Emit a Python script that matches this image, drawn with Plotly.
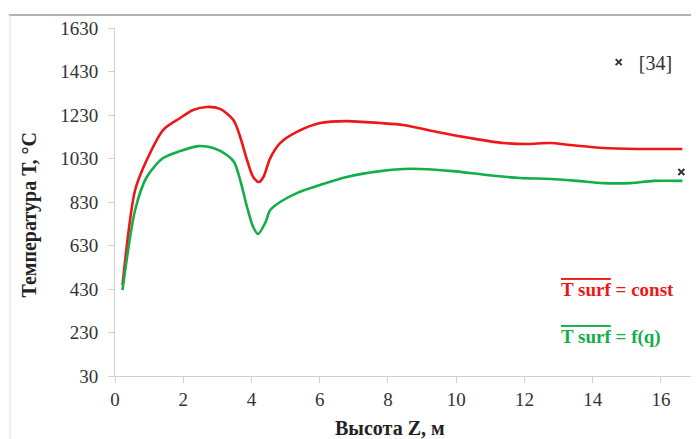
import plotly.graph_objects as go

# Data
z_const = [0.22, 0.59, 0.93, 1.41, 1.91, 2.29, 2.69, 3.08, 3.47, 3.67, 3.87, 4.05, 4.22, 4.35, 4.55,
           4.84, 5.33, 6.01, 6.79, 7.77, 8.45, 9.44, 10.41, 11.38, 12.08, 12.76, 13.34, 14.31, 15.3, 16.63]
t_const = [448, 885, 1023, 1161, 1216, 1253, 1267, 1258, 1207, 1129, 1023, 945, 922, 945, 1032,
           1101, 1152, 1193, 1202, 1193, 1184, 1152, 1124, 1101, 1097, 1101, 1092, 1078, 1074, 1074]

z_fq = [0.22, 0.59, 0.93, 1.41, 1.91, 2.44, 2.88, 3.28, 3.49, 3.67, 3.87, 4.05, 4.19, 4.4, 4.55,
        4.84, 5.33, 6.01, 6.79, 7.77, 8.45, 8.94, 9.91, 10.9, 11.88, 12.76, 13.55, 14.31, 15.1, 15.78, 16.63]
t_fq = [425, 793, 945, 1032, 1064, 1087, 1078, 1046, 1014, 931, 807, 715, 683, 733, 793,
        830, 871, 908, 945, 972, 982, 982, 972, 954, 940, 936, 927, 917, 917, 927, 927]

z_ref = [16.6]
t_ref = [968]

x_ticks = [0, 2, 4, 6, 8, 10, 12, 14, 16]
y_ticks = [30, 230, 430, 630, 830, 1030, 1230, 1430, 1630]

SERIF = "Liberation Serif, serif"
RED = "#ee1616"
GREEN = "#14ad4a"

fig = go.Figure()
fig.add_trace(go.Scatter(x=z_const, y=t_const, mode="lines",
                         line=dict(color=RED, width=2.6, shape="spline", smoothing=0.8),
                         showlegend=False))
fig.add_trace(go.Scatter(x=z_fq, y=t_fq, mode="lines",
                         line=dict(color=GREEN, width=2.6, shape="spline", smoothing=0.8),
                         showlegend=False))
fig.add_trace(go.Scatter(x=z_ref, y=t_ref, mode="markers", name="[34]",
                         marker=dict(symbol="x-thin", size=6, color="#222",
                                     line=dict(width=2, color="#333"))))

fig.update_layout(
    width=691, height=431,
    margin=dict(l=107, r=4, t=20, b=63, autoexpand=False),
    paper_bgcolor="white", plot_bgcolor="white",
    font=dict(family=SERIF, color="#333", size=15),
    showlegend=True,
    legend=dict(x=0.834, y=0.902, xanchor="left", yanchor="middle",
                font=dict(family=SERIF, size=20, color="#333"),
                bgcolor="rgba(0,0,0,0)", itemwidth=30),
    xaxis=dict(range=[0, 17], tickvals=x_ticks, showgrid=False, zeroline=False,
               showline=True, linecolor="#d0d0d0", linewidth=1, automargin=False,
               ticks="outside", ticklen=6, tickcolor="#d0d0d0",
               tickfont=dict(family=SERIF, size=19, color="#333")),
    yaxis=dict(range=[30, 1630], tickvals=y_ticks, showgrid=False, zeroline=False,
               showline=True, linecolor="#d0d0d0", linewidth=1, automargin=False,
               ticks="outside", ticklen=6, tickcolor="#d0d0d0",
               ticklabelstandoff=6,
               tickfont=dict(family=SERIF, size=19, color="#333")),
)

# axis titles (placed like the reference, centred on the chart area)
fig.add_annotation(xref="paper", yref="paper", x=0.474, y=-0.149, xanchor="center", yanchor="middle",
                   text="<b>Высота Z, м</b>", showarrow=False,
                   font=dict(family=SERIF, size=20, color="#222"))
fig.add_annotation(xref="paper", yref="paper", x=-0.147, y=0.463, xanchor="center", yanchor="middle",
                   text="<b>Температура Т, °С</b>", showarrow=False, textangle=-90,
                   font=dict(family=SERIF, size=20, color="#222"))

# chart-area border (top and left)
fig.add_shape(type="line", xref="paper", yref="paper", x0=-0.183, x1=1.02, y0=1.0374, y1=1.0374,
              line=dict(color="#9a9a9a", width=1.5))
fig.add_shape(type="line", xref="paper", yref="paper", x0=-0.181, x1=-0.181, y0=1.0374, y1=-0.2,
              line=dict(color="#e0e0e0", width=1))

fig.add_annotation(xref="paper", yref="paper", x=0.765, y=0.25, xanchor="left", yanchor="middle",
                   text="<b><span style='text-decoration:overline'>T surf</span> = const</b>",
                   showarrow=False, font=dict(family=SERIF, size=19, color=RED))
fig.add_annotation(xref="paper", yref="paper", x=0.765, y=0.112, xanchor="left", yanchor="middle",
                   text="<b><span style='text-decoration:overline'>T surf</span> = f(q)</b>",
                   showarrow=False, font=dict(family=SERIF, size=19, color=GREEN))

fig.write_html("out.html")
